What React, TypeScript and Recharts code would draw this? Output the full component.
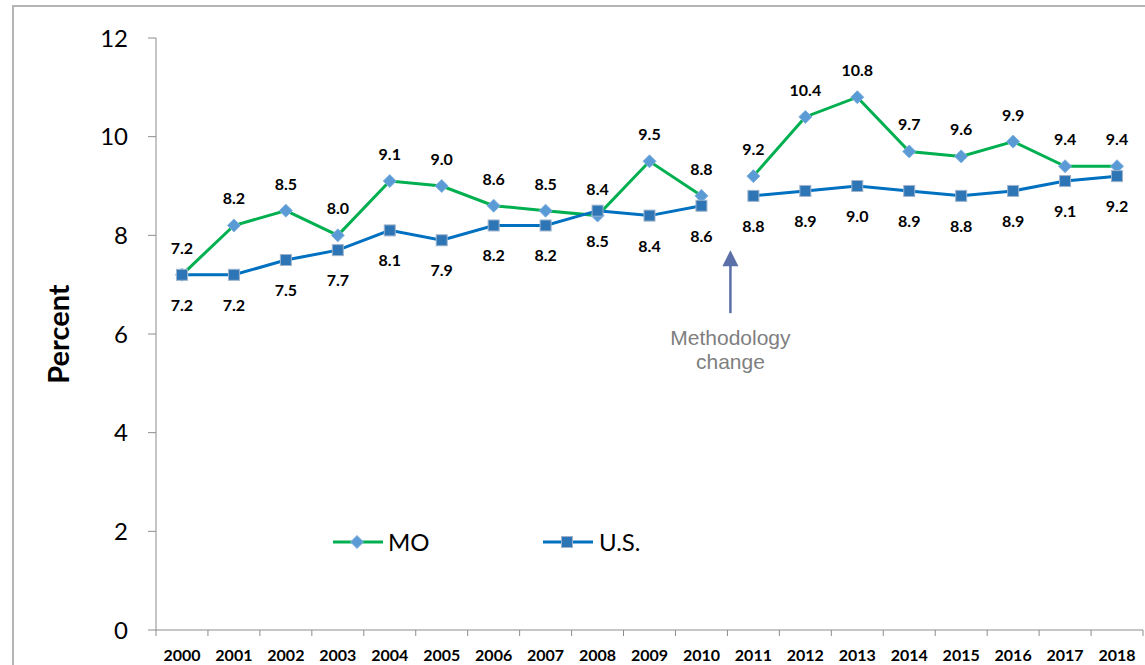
import { LineChart, Line, XAxis, YAxis, LabelList, Legend, ReferenceDot, Label } from "recharts"

const years = [
  "2000", "2001", "2002", "2003", "2004", "2005", "2006", "2007", "2008", "2009",
  "2010", "2011", "2012", "2013", "2014", "2015", "2016", "2017", "2018",
]
const moValues = [7.2, 8.2, 8.5, 8.0, 9.1, 9.0, 8.6, 8.5, 8.4, 9.5, 8.8, 9.2, 10.4, 10.8, 9.7, 9.6, 9.9, 9.4, 9.4]
const usValues = [7.2, 7.2, 7.5, 7.7, 8.1, 7.9, 8.2, 8.2, 8.5, 8.4, 8.6, 8.8, 8.9, 9.0, 8.9, 8.8, 8.9, 9.1, 9.2]
const yTicks = [0, 2, 4, 6, 8, 10, 12]
// lines restart after the methodology change
const breakYear = "2011"
const noteYear = "2010"
const noteValue = 7.7

const breakIdx = years.indexOf(breakYear)
const data = years.map((year, i) => ({
  year,
  moA: i < breakIdx ? moValues[i] : null,
  moB: i >= breakIdx ? moValues[i] : null,
  usA: i < breakIdx ? usValues[i] : null,
  usB: i >= breakIdx ? usValues[i] : null,
}))

const W = 1145
const H = 665
const MARGIN = { top: 38, right: 2, bottom: 5, left: 0 }
const Y_AXIS_W = 156
const PLOT_W = W - MARGIN.left - MARGIN.right - Y_AXIS_W
const HALF_BAND = PLOT_W / years.length / 2

const FONT = "Lato, 'Liberation Sans', sans-serif"
const AXIS = "#8c8c8c"
const MO_LINE = "#00b050"
const MO_DOT = "#5b9bd5"
const US_LINE = "#0070c0"
const US_DOT = "#2e75b6"

function Diamond({ cx, cy }: { cx?: number; cy?: number }) {
  if (cx == null || cy == null) return null
  const r = 6.5
  return (
    <polygon
      points={`${cx},${cy - r} ${cx + r},${cy} ${cx},${cy + r} ${cx - r},${cy}`}
      fill={MO_DOT}
      stroke="#7fb0de"
      strokeWidth={1}
    />
  )
}

function Square({ cx, cy }: { cx?: number; cy?: number }) {
  if (cx == null || cy == null) return null
  const s = 5.5
  return <rect x={cx - s} y={cy - s} width={s * 2} height={s * 2} fill={US_DOT} stroke="#9fb4cc" strokeWidth={1} />
}

function dotRenderer(Shape: typeof Diamond) {
  return (p: any) => <Shape key={`${p.dataKey}-${p.index}`} cx={p.value == null ? undefined : p.cx} cy={p.value == null ? undefined : p.cy} />
}

function ValueLabel({ x, y, value, above }: any) {
  if (value == null || x == null || y == null) return null
  return (
    <text
      x={x}
      y={above ? y - 21 : y + 36}
      textAnchor="middle"
      fontFamily={FONT}
      fontWeight="bold"
      fontSize={16}
      fill="#000"
    >
      {Number(value).toFixed(1)}
    </text>
  )
}

function YearTick({ x, y, payload, index }: any) {
  const last = index === years.length - 1
  return (
    <g>
      <line x1={x - HALF_BAND} x2={x - HALF_BAND} y1={y} y2={y + 6} stroke={AXIS} />
      {last && <line x1={x + HALF_BAND} x2={x + HALF_BAND} y1={y} y2={y + 6} stroke={AXIS} />}
      <text x={x} y={y + 31} textAnchor="middle" fontFamily={FONT} fontWeight="bold" fontSize={16} fill="#000">
        {payload.value}
      </text>
    </g>
  )
}

function MethodologyNote({ cx, cy }: any) {
  if (cx == null || cy == null) return null
  const x = cx + HALF_BAND + 3
  return (
    <g>
      <polygon points={`${x},${cy} ${x + 8},${cy + 16} ${x - 8},${cy + 16}`} fill="#5b6fa8" />
      <line x1={x} x2={x} y1={cy + 15} y2={cy + 63} stroke="#5b6fa8" strokeWidth={2.5} />
      <text x={x} y={cy + 95} textAnchor="middle" fontFamily="'Liberation Sans', Arial, sans-serif" fontSize={21} fill="#7f7f7f">
        Methodology
      </text>
      <text x={x} y={cy + 119} textAnchor="middle" fontFamily="'Liberation Sans', Arial, sans-serif" fontSize={21} fill="#7f7f7f">
        change
      </text>
    </g>
  )
}

function ChartLegend() {
  return (
    <svg width={340} height={34}>
      <line x1={3} x2={53} y1={17} y2={17} stroke={MO_LINE} strokeWidth={3} />
      <Diamond cx={27} cy={17} />
      <text x={58} y={25.5} fontFamily={FONT} fontSize={24} fill="#000">MO</text>
      <line x1={213} x2={263} y1={17} y2={17} stroke={US_LINE} strokeWidth={3} />
      <Square cx={237} cy={17} />
      <text x={269} y={25.5} fontFamily={FONT} fontSize={24} fill="#000">U.S.</text>
    </svg>
  )
}

export default function App() {
  return (
    <div style={{ position: "absolute", left: 0, top: 0, width: W, height: H, background: "#fff", overflow: "hidden" }}>
      <div
        style={{
          position: "absolute",
          left: 12,
          top: 5,
          width: W,
          height: H,
          borderLeft: "2px solid #b4b4b4",
          borderTop: "2px solid #b4b4b4",
        }}
      />
      <LineChart width={W} height={H} data={data} margin={MARGIN}>
        <XAxis
          dataKey="year"
          height={30}
          stroke={AXIS}
          tickLine={false}
          tickSize={0}
          tickMargin={0}
          interval={0}
          padding={{ left: HALF_BAND, right: HALF_BAND }}
          tick={<YearTick />}
        />
        <YAxis
          width={Y_AXIS_W}
          domain={[0, 12]}
          ticks={yTicks}
          stroke={AXIS}
          tickSize={8}
          tickMargin={20}
          tick={{ fontFamily: FONT, fontSize: 24, fill: "#000" }}
        >
          <Label
            content={(p: any) => {
              const vb = p.viewBox || { x: 0, y: MARGIN.top, height: 592 }
              const cy = vb.y + vb.height / 2
              return (
                <text
                  x={57}
                  y={cy}
                  transform={`rotate(-90 57 ${cy})`}
                  textAnchor="middle"
                  dominantBaseline="central"
                  fontFamily={FONT}
                  fontWeight="bold"
                  fontSize={29}
                  fill="#000"
                >
                  Percent
                </text>
              )
            }}
          />
        </YAxis>
        <Legend
          layout="horizontal"
          verticalAlign="middle"
          align="center"
          wrapperStyle={{ position: "absolute", left: 330, top: 525, width: 340, height: 34 }}
          content={() => <ChartLegend />}
        />
        <Line dataKey="moA" stroke={MO_LINE} strokeWidth={3} dot={dotRenderer(Diamond)} activeDot={false} isAnimationActive={false}>
          <LabelList dataKey="moA" content={(p: any) => <ValueLabel {...p} above />} />
        </Line>
        <Line dataKey="moB" stroke={MO_LINE} strokeWidth={3} dot={dotRenderer(Diamond)} activeDot={false} isAnimationActive={false}>
          <LabelList dataKey="moB" content={(p: any) => <ValueLabel {...p} above />} />
        </Line>
        <Line dataKey="usA" stroke={US_LINE} strokeWidth={3} dot={dotRenderer(Square)} activeDot={false} isAnimationActive={false}>
          <LabelList dataKey="usA" content={(p: any) => <ValueLabel {...p} />} />
        </Line>
        <Line dataKey="usB" stroke={US_LINE} strokeWidth={3} dot={dotRenderer(Square)} activeDot={false} isAnimationActive={false}>
          <LabelList dataKey="usB" content={(p: any) => <ValueLabel {...p} />} />
        </Line>
        <ReferenceDot x={noteYear} y={noteValue} r={0} shape={(p: any) => <MethodologyNote cx={p.cx} cy={p.cy} />} />
      </LineChart>
    </div>
  )
}
